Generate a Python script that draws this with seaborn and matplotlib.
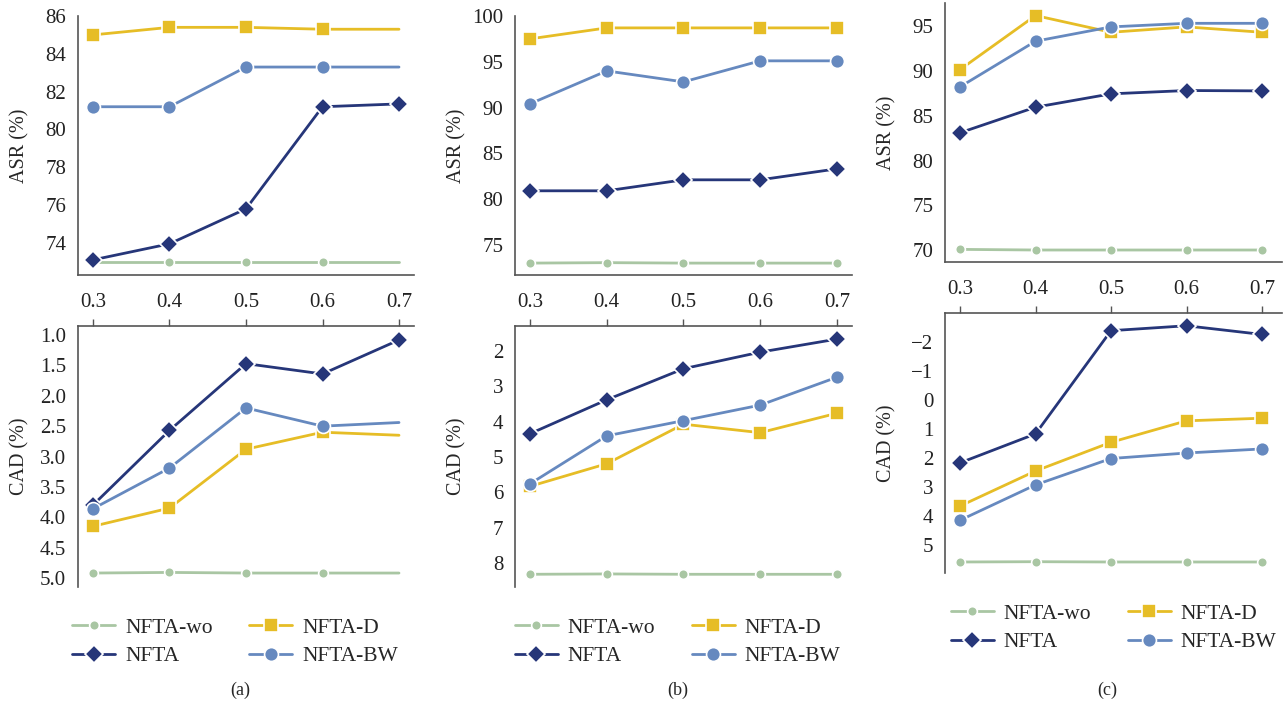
import numpy as np
import pandas as pd
import seaborn as sns
import matplotlib.pyplot as plt

sns.set_style("white")
plt.rcParams["font.family"] = ["Liberation Serif", "DejaVu Serif"]
plt.rcParams["font.size"] = 14

# ratios on the x axis
ratios = [0.3, 0.4, 0.5, 0.6, 0.7]
methods = ["NFTA-wo", "NFTA-D", "NFTA", "NFTA-BW"]

# panel (a)
asr_a = {
    "NFTA-wo": [73.0, 73.0, 73.0, 73.0, 73.0],
    "NFTA-D": [85.0, 85.4, 85.4, 85.3, 85.3],
    "NFTA": [73.1, 73.95, 75.8, 81.2, 81.35],
    "NFTA-BW": [81.2, 81.2, 83.3, 83.3, 83.3],
}
cad_a = {
    "NFTA-wo": [4.92, 4.91, 4.92, 4.92, 4.92],
    "NFTA-D": [4.15, 3.85, 2.88, 2.6, 2.65],
    "NFTA": [3.8, 2.57, 1.47, 1.64, 1.08],
    "NFTA-BW": [3.86, 3.19, 2.2, 2.5, 2.44],
}
# panel (b)
asr_b = {
    "NFTA-wo": [73.0, 73.05, 73.0, 73.0, 73.0],
    "NFTA-D": [97.5, 98.7, 98.7, 98.7, 98.7],
    "NFTA": [80.9, 80.9, 82.1, 82.1, 83.3],
    "NFTA-BW": [90.4, 94.0, 92.8, 95.1, 95.1],
}
cad_b = {
    "NFTA-wo": [8.32, 8.31, 8.32, 8.32, 8.32],
    "NFTA-D": [5.83, 5.19, 4.07, 4.31, 3.76],
    "NFTA": [4.34, 3.38, 2.5, 2.03, 1.66],
    "NFTA-BW": [5.76, 4.4, 3.97, 3.53, 2.74],
}
# panel (c)
asr_c = {
    "NFTA-wo": [70.07, 70.0, 70.0, 70.0, 70.0],
    "NFTA-D": [90.16, 96.2, 94.33, 94.93, 94.33],
    "NFTA": [83.1, 85.96, 87.45, 87.82, 87.78],
    "NFTA-BW": [88.23, 93.33, 94.93, 95.33, 95.33],
}
cad_c = {
    "NFTA-wo": [5.59, 5.58, 5.59, 5.59, 5.59],
    "NFTA-D": [3.66, 2.45, 1.46, 0.72, 0.63],
    "NFTA": [2.17, 1.17, -2.39, -2.56, -2.26],
    "NFTA-BW": [4.15, 2.93, 2.02, 1.83, 1.69],
}

colors = {"NFTA-wo": "#a9c6a3", "NFTA-D": "#e6bd26",
          "NFTA": "#263679", "NFTA-BW": "#6689bf"}
markers = {"NFTA-wo": "o", "NFTA-D": "s", "NFTA": "D", "NFTA-BW": "o"}
msizes = {"NFTA-wo": 7, "NFTA-D": 10, "NFTA": 9, "NFTA-BW": 10}

W, H = 1288, 708
fig = plt.figure(figsize=(W / 100, H / 100), dpi=100)


def px_axes(left, top, right, bottom):
    return fig.add_axes([left / W, 1 - bottom / H, (right - left) / W, (bottom - top) / H])


def draw(ax, data, no_last=()):
    for m in methods:
        kw = {}
        if m in no_last:
            kw["markevery"] = [0, 1, 2, 3]
        sns.lineplot(x=ratios, y=data[m], ax=ax, color=colors[m], marker=markers[m],
                     markersize=msizes[m], markeredgecolor="white", markeredgewidth=1.2,
                     linewidth=2, label=m, legend=False, **kw)
    for s in ax.spines.values():
        s.set_color("#555555")
        s.set_linewidth(1.2)
    ax.tick_params(colors="#222222", length=5, width=1, color="#555555", labelsize=15)


panels = [
    # (top box, bottom box, asr, cad, xlim, asr ylim, cad ylim, cad ticks, asr ticks, no-marker, fmt)
    ((78, 16, 414, 275), (78, 326, 414, 587), asr_a, cad_a, (0.2804, 0.7196),
     (72.3, 86), (5.15, 0.85), [1.0, 1.5, 2.0, 2.5, 3.0, 3.5, 4.0, 4.5, 5.0],
     [74, 76, 78, 80, 82, 84, 86], ("NFTA-wo", "NFTA-D", "NFTA-BW"), "{:.1f}"),
    ((515, 16, 852, 275), (515, 326, 852, 587), asr_b, cad_b, (0.2805, 0.7196),
     (71.7, 100), (8.68, 1.29), [2, 3, 4, 5, 6, 7, 8],
     [75, 80, 85, 90, 95, 100], (), "{:.0f}"),
    ((945, 3, 1282, 262), (945, 313, 1282, 573), asr_c, cad_c, (0.2801, 0.7265),
     (68.66, 97.6), (5.97, -3.0), [-2, -1, 0, 1, 2, 3, 4, 5],
     [70, 75, 80, 85, 90, 95], (), "{:.0f}"),
]

tags = ["(a)", "(b)", "(c)"]
leg_shift = [-11, -6, 0]
for i, (tb, bb, asr, cad, xl, yl1, yl2, cticks, aticks, nolast, fmt) in enumerate(panels):
    ax1 = px_axes(*tb)
    ax2 = px_axes(*bb)
    draw(ax1, asr, nolast)
    draw(ax2, cad, nolast)

    ax1.set_xlim(*xl)
    ax1.set_ylim(*yl1)
    ax1.set_xticks(ratios)
    ax1.set_xticklabels([f"{r:.1f}" for r in ratios])
    ax1.tick_params(axis="x", pad=8)
    ax1.set_yticks(aticks)
    ax1.spines[["top", "right"]].set_visible(False)
    ax1.set_ylabel("ASR (%)", fontsize=14.5)

    ax2.set_xlim(*xl)
    ax2.set_ylim(*yl2)
    ax2.set_yticks(cticks)
    ax2.set_yticklabels([fmt.format(t).replace("-", "\u2212") for t in cticks])
    ax2.xaxis.tick_top()
    ax2.set_xticks(ratios)
    ax2.set_xticklabels([])
    ax2.spines[["bottom", "right"]].set_visible(False)
    ax2.set_ylabel("CAD (%)", fontsize=14.5)

    for ax in (ax1, ax2):
        ax.set_xlabel("")
        ax.yaxis.set_label_coords(-0.145, 0.5)

    h, l = ax1.get_legend_handles_labels()
    order = [0, 2, 1, 3]
    cx = ((tb[0] + tb[2]) / 2 + leg_shift[i]) / W
    ly = 1 - (642 if i < 2 else 628) / H
    fig.legend([h[k] for k in order], [l[k] for k in order], ncol=2,
               loc="center", bbox_to_anchor=(cx, ly), frameon=False,
               fontsize=15.5, handlelength=2.0, handletextpad=0.45,
               columnspacing=1.7, labelspacing=0.4)
    fig.text(((tb[0] + tb[2]) / 2 - 6) / W, 1 - 690 / H, tags[i],
             ha="center", va="center", fontsize=13)

plt.savefig("out.png", dpi=100)
